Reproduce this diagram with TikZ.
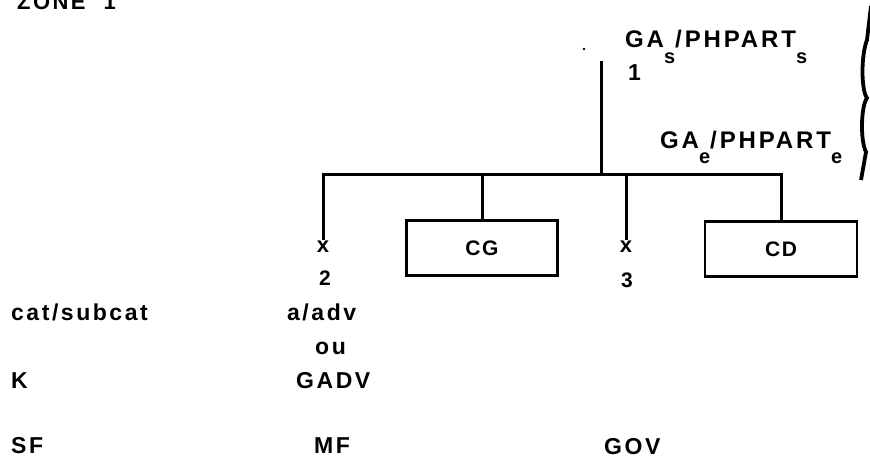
\documentclass[tikz,border=0pt]{standalone}
\usepackage{fontspec}
\newfontfamily\lab{Liberation Sans}[LetterSpace=11]
\newfontfamily\labt{Liberation Sans}[LetterSpace=12]
\newfontfamily\labc{Liberation Sans}[LetterSpace=8]
\begin{document}
\begin{tikzpicture}[x=1pt,y=-1pt,
  txt/.style={font=\lab\bfseries\fontsize{23}{23}\selectfont, inner sep=0pt, anchor=base west},
  ctxt/.style={font=\labc\bfseries\fontsize{21}{21}\selectfont, inner sep=0pt, anchor=base},
  big/.style={font=\labt\bfseries\fontsize{24}{24}\selectfont, inner sep=0pt, anchor=base west},
  zone/.style={font=\lab\bfseries\fontsize{22}{22}\selectfont, inner sep=0pt, anchor=base west},
  xmark/.style={font=\labc\bfseries\fontsize{22}{22}\selectfont, inner sep=0pt, anchor=base},
  boxst/.style={draw, line width=2.8pt, minimum height=55pt, inner sep=0pt,
    font=\labc\bfseries\fontsize{21}{21}\selectfont},
  ln/.style={line width=3pt}]
\useasboundingbox (0,0) rectangle (870,461);
% title
\node[zone] (zone) at (17,9) {ZONE\hspace{18pt}1};
% dot
\fill (584,49) circle (1.4);
% top labels
\node[big] (gas) at (625,47) {GA\raisebox{-16pt}{\fontsize{20}{20}\selectfont s}/PHPART\raisebox{-16pt}{\fontsize{20}{20}\selectfont s}};
\node[txt] (one) at (628,80) {1};
\node[big] (gae) at (660,148) {GA\raisebox{-15pt}{\fontsize{20}{20}\selectfont e}/PHPART\raisebox{-15pt}{\fontsize{20}{20}\selectfont e}};
% brace at right
\draw[line width=3.8pt] (871,6) -- (867,40) .. controls (861,55) and (861,90) .. (867,98)
  .. controls (861,106) and (860,140) .. (866,152) -- (861,180);
% tree
\coordinate (top) at (601,61);
\coordinate (j) at (601,174);
\node[xmark] (x2) at (323,252) {x};
\node[boxst, minimum width=151pt] (cg) at (482,248) {CG};
\node[xmark] (x3) at (626,252) {x};
\node[boxst, minimum width=152pt] (cd) at (781,249) {CD};
\draw[ln] (top) -- (j);
\draw[ln] (j) -| (x2.north);
\draw[ln] (j) -| (cg.north);
\draw[ln] (j) -| (x3.north);
\draw[ln] (j) -| (cd.north);
\node[ctxt] (n2) at (325,285) {2};
\node[ctxt] (n3) at (627,287) {3};
% bottom rows
\node[txt] (cat) at (11,320) {cat/subcat};
\node[txt] (aadv) at (287,320) {a/adv};
\node[txt] (ou) at (315,354) {ou};
\node[txt] (k) at (11,388) {K};
\node[txt] (gadv) at (296,388) {GADV};
\node[txt] (sf) at (11,453) {SF};
\node[txt] (mf) at (314,453) {MF};
\node[txt] (gov) at (604,454) {GOV};
\end{tikzpicture}
\end{document}
